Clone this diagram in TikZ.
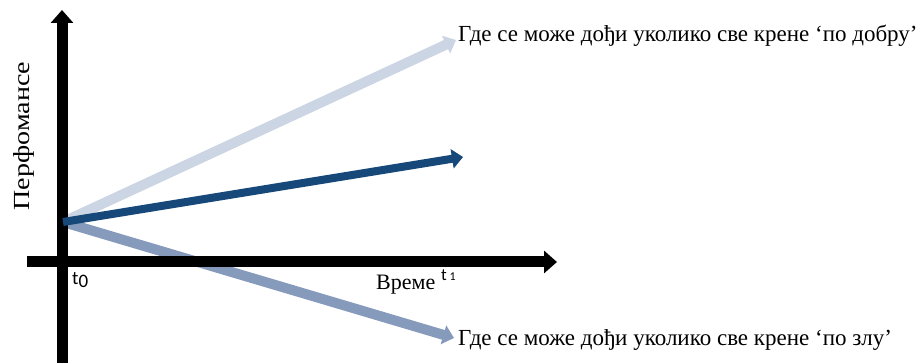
\documentclass[tikz,border=0pt]{standalone}
\usepackage{fontspec}
\setmainfont{Liberation Serif}
\newfontfamily\tickfont{Carlito}
\usetikzlibrary{arrows.meta}
\definecolor{lightarr}{RGB}{204,213,228}
\definecolor{darkarr}{RGB}{22,72,122}
\definecolor{grayarr}{RGB}{134,154,188}
\begin{document}
\begin{tikzpicture}[x=1pt,y=-1pt,
  axis/.style={line width=11pt,-{Triangle[length=13pt,width=22pt]}},
  trend/.style={line width=#1,-{Triangle[length=11pt,width=19pt]}},
  lbl/.style={inner sep=0pt,font=\fontsize{23}{26}\selectfont},
  tick/.style={inner sep=0pt,font=\tickfont\fontsize{19}{21}\selectfont}]
\useasboundingbox (0,0) rectangle (924,363);
\fill[white] (0,0) rectangle (924,363);
\coordinate (ybot) at (62,363);
\coordinate (ytop) at (62,10);
\coordinate (xleft) at (27,262);
\coordinate (xright) at (557,262);
\coordinate (o) at (63,222);
\coordinate (good) at (456,40);
\coordinate (mid) at (463,157);
\coordinate (bad) at (454,338);
\draw[trend=10pt,lightarr] (o) -- (good);
\draw[trend=10pt,grayarr] (o) -- (bad);
\draw[axis] (xleft) -- (xright);
\draw[axis] (ybot) -- (ytop);
\draw[trend=8pt,darkarr] (o) -- (mid);
\node[lbl,anchor=base west] (tgood) at (458,42) {Где се може дођи уколико све крене ‘по добру’};
\node[lbl,anchor=base west] (tbad) at (458,345) {Где се може дођи уколико све крене ‘по злу’};
\node[lbl,rotate=90,anchor=base] (perf) at (29,136) {\scalebox{1.22}[1]{Перфомансе}};
\node[tick,anchor=base west] (t0) at (72,285) {t\raisebox{-0.3ex}{0}};
\node[lbl,anchor=base west,font=\fontsize{22}{26}\selectfont] (vreme) at (376,290) {Време};
\node[tick,anchor=base west,font=\tickfont\fontsize{17}{18}\selectfont] (t1) at (441,281) {t\,{\fontsize{12}{14}\selectfont 1}};
\end{tikzpicture}
\end{document}
